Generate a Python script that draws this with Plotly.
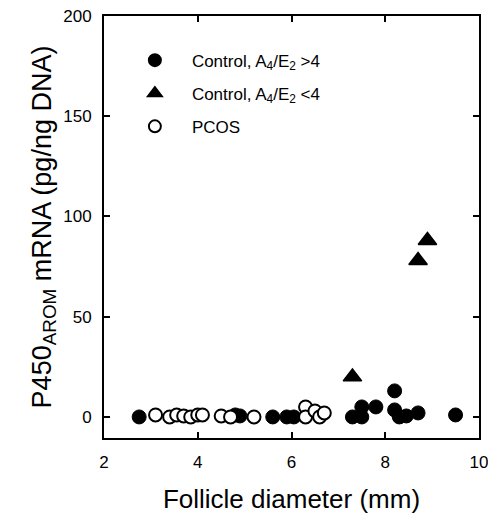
import plotly.graph_objects as go

# Control, A4/E2 > 4 (filled circles)
ctrl_hi_x = [2.75, 4.8, 4.9, 5.6, 5.9, 6.05, 7.3, 7.5, 7.5, 7.8, 8.2, 8.2, 8.3, 8.45, 8.7, 9.5]
ctrl_hi_y = [0, 1, 0.5, 0, 0, 0, 0, 0, 5, 5, 13, 3.5, 0, 0.5, 2, 1]

# Control, A4/E2 < 4 (filled triangles)
ctrl_lo_x = [7.3, 8.7, 8.9]
ctrl_lo_y = [20, 78, 88]

# PCOS (open circles)
pcos_x = [3.1, 3.4, 3.55, 3.7, 3.85, 4.0, 4.1, 4.5, 4.7, 5.2, 6.3, 6.3, 6.5, 6.6, 6.7]
pcos_y = [1, 0, 1, 0.5, 0, 1, 1, 0.5, 0, 0, 5, 0, 3, 0, 2]

x_ticks = [2, 4, 6, 8, 10]
y_ticks = [0, 50, 100, 150, 200]

FONT = "Liberation Sans, Arial, sans-serif"

fig = go.Figure()
fig.add_trace(go.Scatter(
    x=ctrl_hi_x, y=ctrl_hi_y, mode="markers", legendgroup="a",
    name="Control, A<sub>4</sub>/E<sub>2</sub> &gt;4",
    marker=dict(symbol="circle", size=14, color="black", line=dict(color="black", width=1)),
))
fig.add_trace(go.Scatter(
    x=ctrl_lo_x, y=ctrl_lo_y, mode="markers", legendgroup="b",
    name="Control, A<sub>4</sub>/E<sub>2</sub> &lt;4",
    marker=dict(symbol="triangle-up", size=16, color="black", line=dict(color="black", width=1.5)),
))
fig.add_trace(go.Scatter(
    x=pcos_x, y=pcos_y, mode="markers", legendgroup="c",
    name="PCOS",
    marker=dict(symbol="circle", size=13, color="white", line=dict(color="black", width=2)),
))

axis_common = dict(
    showline=True, linecolor="black", linewidth=2, mirror="ticks",
    ticks="inside", ticklen=6, tickwidth=1.5, tickcolor="black",
    showgrid=False, zeroline=False, automargin=False,
    ticklabeloverflow="allow",
    tickfont=dict(family=FONT, size=17, color="black"),
)

# page body has an 8px default margin, so the figure is 8px smaller
fig.update_layout(
    template="none",
    width=488, height=510,
    margin=dict(l=96, r=17, t=8, b=80),
    paper_bgcolor="white", plot_bgcolor="white",
    font=dict(family=FONT, color="black"),
    showlegend=True,
    legend=dict(
        x=0.037, y=0.937, xanchor="left", yanchor="top",
        bgcolor="rgba(0,0,0,0)", borderwidth=0,
        font=dict(family=FONT, size=17, color="black"),
        tracegroupgap=8, itemsizing="constant", itemwidth=64,
    ),
    xaxis=dict(
        range=[2, 10], tickvals=x_ticks, ticktext=[str(v) for v in x_ticks],
        ticklabelstandoff=8,
        title=dict(text="Follicle diameter (mm)", font=dict(family=FONT, size=26), standoff=18),
        **axis_common,
    ),
    yaxis=dict(
        range=[-10.5, 200], tickvals=y_ticks, ticktext=[str(v) for v in y_ticks],
        ticklabelstandoff=7,
        title=dict(text="P450<sub>AROM</sub> mRNA (pg/ng DNA)", font=dict(family=FONT, size=27), standoff=4),
        **axis_common,
    ),
)
fig.update_traces(cliponaxis=False)

fig.write_html("out.html")
